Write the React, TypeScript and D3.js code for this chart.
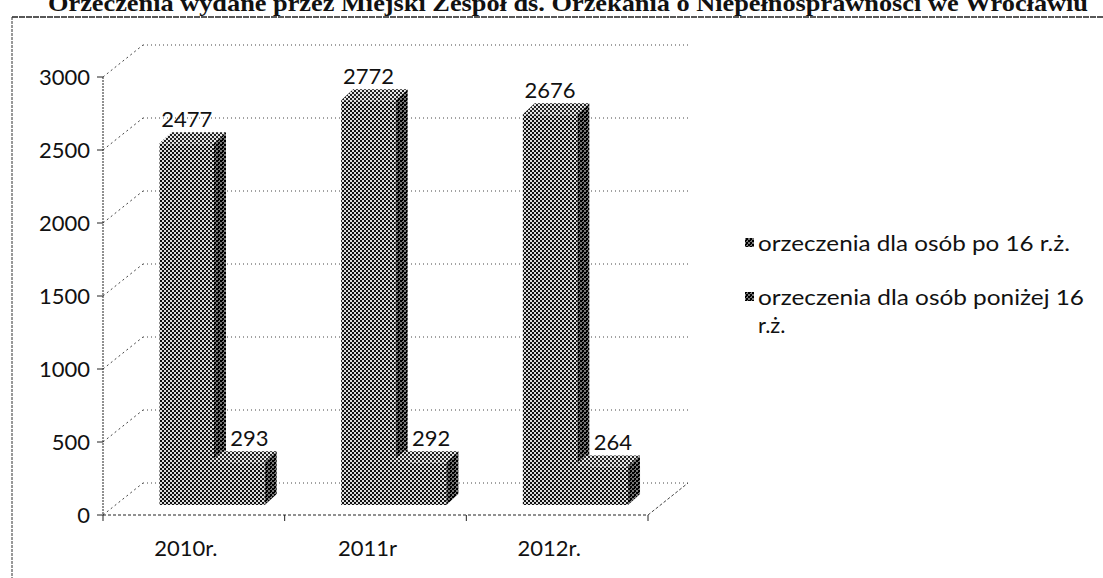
import React from 'react';
import * as d3 from 'd3';

// chart data
const categories = ['2010r.', '2011r', '2012r.'];
const over16 = [2477, 2772, 2676];
const under16 = [293, 292, 264];
const yTicks = [0, 500, 1000, 1500, 2000, 2500, 3000];
const legendLines = [
  ['orzeczenia dla osób po 16 r.ż.'],
  ['orzeczenia dla osób poniżej 16', 'r.ż.'],
];
const title = 'Orzeczenia wydane przez Miejski Zespół ds. Orzekania o Niepełnosprawności we Wrocławiu';

const W = 1103;
const H = 578;
const FONT = 'Lato, "Open Sans", sans-serif';

// oblique 3d offsets
const WALL = { dx: 40, dy: 32 };
const BAR_FRONT = { dx: 12, dy: 10 };
const BAR_DEPTH = { dx: 12, dy: 11 };

const x = d3.scaleBand().domain(categories).range([103, 648]);
const y = d3.scaleLinear().domain([0, 3000]).range([515, 77]);
const bw = x.bandwidth();
const barW = bw * 0.3;

type Box = { x0: number; x1: number; yTop: number; yBot: number };

function barBox(cat: string, value: number, slot: number): Box {
  const x0 = (x(cat) as number) + bw * 0.245 + BAR_FRONT.dx + slot * barW * 0.93;
  return {
    x0,
    x1: x0 + barW,
    yTop: y(value) - BAR_FRONT.dy,
    yBot: y(0) - BAR_FRONT.dy,
  };
}

function Bar({ b }: { b: Box }) {
  const { dx, dy } = BAR_DEPTH;
  const top = [
    [b.x0, b.yTop],
    [b.x0 + dx, b.yTop - dy],
    [b.x1 + dx, b.yTop - dy],
    [b.x1, b.yTop],
  ];
  const side = [
    [b.x1, b.yTop],
    [b.x1 + dx, b.yTop - dy],
    [b.x1 + dx, b.yBot - dy],
    [b.x1, b.yBot],
  ];
  const pts = (p: number[][]) => p.map((d) => d.join(',')).join(' ');
  return (
    <g>
      <rect x={b.x0} y={b.yTop} width={b.x1 - b.x0} height={b.yBot - b.yTop} fill="url(#ditherFront)" />
      <polygon points={pts(top)} fill="url(#ditherTop)" />
      <polygon points={pts(side)} fill="url(#ditherSide)" />
    </g>
  );
}

export default function App() {
  const grid = '#444';
  const backX0 = 103 + WALL.dx;
  const backX1 = 648 + WALL.dx;

  return (
    <svg width={W} height={H} style={{ position: 'absolute', left: 0, top: 0, background: '#fff' }}>
      <defs>
        <pattern id="ditherFront" width="4" height="4" patternUnits="userSpaceOnUse">
          <rect width="4" height="4" fill="#dcdcdc" />
          <rect x="0" y="0" width="2" height="2" fill="#111" />
          <rect x="2" y="2" width="2" height="2" fill="#111" />
        </pattern>
        <pattern id="ditherTop" width="4" height="4" patternUnits="userSpaceOnUse">
          <rect width="4" height="4" fill="#e6e6e6" />
          <rect x="0" y="0" width="2" height="2" fill="#222" />
          <rect x="2" y="2" width="2" height="2" fill="#222" />
        </pattern>
        <pattern id="ditherSide" width="4" height="4" patternUnits="userSpaceOnUse">
          <rect width="4" height="4" fill="#777" />
          <rect x="0" y="0" width="2" height="2" fill="#000" />
          <rect x="2" y="2" width="2" height="2" fill="#000" />
          <rect x="2" y="0" width="1" height="1" fill="#000" />
        </pattern>
      </defs>

      {/* title, cut off at the top of the scan */}
      <text
        x={48}
        y={11}
        fontFamily='"Liberation Serif", serif'
        fontWeight="bold"
        fontSize={24}
        textLength={1040}
        lengthAdjust="spacingAndGlyphs"
        fill="#111"
      >
        {title}
      </text>

      {/* frame */}
      <line x1={12} y1={17} x2={W} y2={17} stroke="#222" strokeWidth={1.5} strokeDasharray="6 1" />
      <line x1={12} y1={17} x2={12} y2={H} stroke="#333" strokeWidth={1} strokeDasharray="3 1" />

      {/* walls and gridlines */}
      {yTicks.map((t) => (
        <g key={t}>
          <line x1={103} y1={y(t)} x2={backX0} y2={y(t) - WALL.dy} stroke={grid} strokeDasharray="2 3" />
          <line x1={backX0} y1={y(t) - WALL.dy} x2={backX1} y2={y(t) - WALL.dy} stroke={grid} strokeDasharray="1 3" />
          <line x1={97} y1={y(t)} x2={103} y2={y(t)} stroke="#222" />
          <text x={90} y={y(t) + 8} textAnchor="end" fontFamily={FONT} fontSize={22} fill="#111">
            {t}
          </text>
        </g>
      ))}
      <line x1={103} y1={y(3000)} x2={103} y2={y(0)} stroke="#222" strokeDasharray="2 1" />
      <line x1={103} y1={y(0)} x2={648} y2={y(0)} stroke="#222" strokeDasharray="3 2" />
      <line x1={648} y1={y(0)} x2={backX1} y2={y(0) - WALL.dy} stroke={grid} strokeDasharray="3 2" />
      {[...categories.map((c) => x(c) as number), 648].map((v, i) => (
        <line key={i} x1={v} y1={y(0)} x2={v} y2={y(0) + 6} stroke="#222" />
      ))}

      {/* bars */}
      {categories.map((c, i) => {
        const a = barBox(c, over16[i], 0);
        const b = barBox(c, under16[i], 1);
        return (
          <g key={c}>
            <Bar b={a} />
            <Bar b={b} />
            <text
              x={(a.x0 + a.x1) / 2}
              y={a.yTop - BAR_DEPTH.dy - 5}
              textAnchor="middle"
              fontFamily={FONT}
              fontSize={22}
              fill="#111"
            >
              {over16[i]}
            </text>
            <text
              x={(b.x0 + b.x1) / 2 + BAR_DEPTH.dx}
              y={b.yTop - BAR_DEPTH.dy - 5}
              textAnchor="middle"
              fontFamily={FONT}
              fontSize={22}
              fill="#111"
            >
              {under16[i]}
            </text>
            <text
              x={(x(c) as number) + bw / 2 - 8}
              y={556}
              textAnchor="middle"
              fontFamily={FONT}
              fontSize={22}
              fill="#111"
            >
              {c}
            </text>
          </g>
        );
      })}

      {/* legend */}
      {legendLines.map((lines, i) => {
        const ly = 243 + i * 54;
        return (
          <g key={i}>
            <rect x={745} y={ly - 5} width={9} height={9} fill="url(#ditherSide)" />
            {lines.map((l, j) => (
              <text
                key={j}
                x={758}
                y={ly + 8 + j * 28}
                fontFamily={FONT}
                fontSize={22}
                fill="#111"
                textLength={j === 0 ? (i === 0 ? 312 : 326) : undefined}
                lengthAdjust="spacingAndGlyphs"
              >
                {l}
              </text>
            ))}
          </g>
        );
      })}
    </svg>
  );
}
